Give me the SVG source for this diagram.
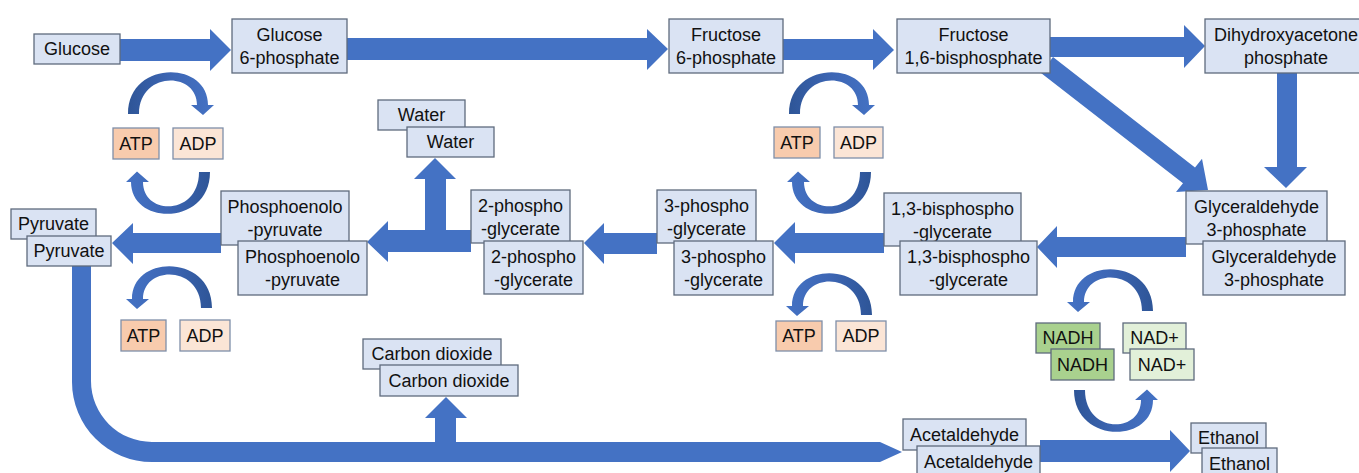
<svg xmlns="http://www.w3.org/2000/svg" xmlns:xlink="http://www.w3.org/1999/xlink" width="1359" height="473" viewBox="0 0 1359 473">
<style>
.b{fill:#DAE3F3;stroke:#5F6B7D;stroke-width:1.3}
.atp{fill:#F8CBAD;stroke:#7F8FA9;stroke-width:1.3}
.adp{fill:#FBE5D6;stroke:#7F8FA9;stroke-width:1.3}
.nadh{fill:#A9D18E;stroke:#5F6B7D;stroke-width:1.3}
.nad{fill:#E2F0D9;stroke:#5F6B7D;stroke-width:1.3}
text{font-family:"Liberation Sans",Arial,sans-serif;font-size:18px;fill:#111;text-anchor:middle}
.arr{fill:#4472C4}
</style>
<defs>
<linearGradient id="gA" x1="0" y1="0" x2="1" y2="0">
<stop offset="0" stop-color="#2E5597"/><stop offset="0.5" stop-color="#3D66B4"/><stop offset="1" stop-color="#4472C4"/>
</linearGradient>
<linearGradient id="gB" x1="1" y1="0" x2="0" y2="0">
<stop offset="0" stop-color="#2E5597"/><stop offset="0.5" stop-color="#3D66B4"/><stop offset="1" stop-color="#4472C4"/>
</linearGradient>
<path id="cu" fill="url(#gA)" d="M128,114 C128,60 208,60 208,105 L214,105 L203,115 L191,105 L197,105 C197,71 139,71 139,114 Z"/>
<path id="cd" fill="url(#gB)" d="M210,172 C210,226 131,226 131,182 L126,182 L137,171.5 L149,182 L143,182 C143,216 199,216 199,172 Z"/>
</defs>
<rect width="1359" height="473" fill="#FFFFFF"/>
<g id="connectors">
<polygon class="arr" points="120,39 210,39 210,29 231,50 210,71 210,61 120,61"/>
<polygon class="arr" points="347,38 647,38 647,29 668,49 647,70 647,60 347,60"/>
<polygon class="arr" points="783,39 873,39 873,29 894,50 873,70 873,60 783,60"/>
<polygon class="arr" points="1050,37 1184,37 1184,25 1205,46 1184,68 1184,57 1050,57"/>
<polygon class="arr" points="1277,73 1297,73 1297,167 1307,167 1286,188 1264,167 1277,167"/>
<polygon class="arr" points="1053,57 1195,167.4 1202,158.7 1208,190 1176,192 1183,183.2 1041,73"/>
<polygon class="arr" points="1186,237 1057,237 1057,226 1037,247 1057,268 1057,257 1186,257"/>
<polygon class="arr" points="884,233 795,233 795,222 774,243 795,264 795,253 884,253"/>
<polygon class="arr" points="657,233 604,233 604,223 584,243 604,264 604,254 657,254"/>
<polygon class="arr" points="471,230 446,230 446,179 456,179 435,158 414,179 425,179 425,230 388,230 388,221 367,242 388,262 388,252 471,252"/>
<polygon class="arr" points="221,233 133,233 133,223 112,243 133,264 133,253 221,253"/>
<path class="arr" d="M72,266 L72,382 A80,80 0 0 0 152,462 L880,462 L902,452 L880,442 L456,442 L456,418 L467,418 L446,397 L425,418 L435,418 L435,442 L152,442 A61,61 0 0 1 91,381 L91,266 Z"/>
<polygon class="arr" points="1040,440 1170,440 1170,430 1190,451 1170,472 1170,462 1040,462"/>
<use xlink:href="#cu"/>
<use xlink:href="#cd"/>
<use xlink:href="#cu" transform="translate(661,0)"/>
<use xlink:href="#cd" transform="translate(661,0)"/>
<use xlink:href="#cu" transform="translate(340,194) scale(-1,1)"/>
<use xlink:href="#cu" transform="translate(1000,201) scale(-1,1)"/>
<use xlink:href="#cu" transform="translate(1281,197) scale(-1,1)"/>
<use xlink:href="#cd" transform="translate(1284,218) scale(-1,1)"/>
</g>
<g id="glucose"><rect class="b" x="34" y="34" width="86" height="30"/><text x="77" y="55">Glucose</text></g>
<g id="g6p"><rect class="b" x="232" y="19" width="115" height="54"/><text x="289.5" y="41">Glucose</text><text x="289.5" y="64">6-phosphate</text></g>
<g id="f6p"><rect class="b" x="669" y="19" width="114" height="54"/><text x="726" y="41">Fructose</text><text x="726" y="64">6-phosphate</text></g>
<g id="f16bp"><rect class="b" x="897" y="19" width="153" height="54"/><text x="973.5" y="41">Fructose</text><text x="973.5" y="64">1,6-bisphosphate</text></g>
<g id="dhap"><rect class="b" x="1205" y="19" width="162" height="54"/><text x="1286" y="41">Dihydroxyacetone</text><text x="1286" y="64">phosphate</text></g>
<g id="atp1"><rect class="atp" x="113" y="128" width="46" height="31"/><text x="136" y="150">ATP</text></g>
<g id="adp1"><rect class="adp" x="173" y="128" width="50" height="31"/><text x="198" y="150">ADP</text></g>
<g id="atp2"><rect class="atp" x="774" y="127" width="46" height="31"/><text x="797" y="149">ATP</text></g>
<g id="adp2"><rect class="adp" x="834" y="127" width="49" height="31"/><text x="858.5" y="149">ADP</text></g>
<g id="water1"><rect class="b" x="378" y="100" width="87" height="30"/><text x="421.5" y="121">Water</text></g>
<g id="water2"><rect class="b" x="407" y="127" width="87" height="30"/><text x="450.5" y="148">Water</text></g>
<g id="pyruvate1"><rect class="b" x="11" y="209" width="85" height="30"/><text x="53.5" y="230">Pyruvate</text></g>
<g id="pyruvate2"><rect class="b" x="27" y="236" width="84" height="30"/><text x="69" y="257">Pyruvate</text></g>
<g id="pep1"><rect class="b" x="221" y="191" width="128" height="54"/><text x="285" y="213">Phosphoenolo</text><text x="285" y="236">-pyruvate</text></g>
<g id="pep2"><rect class="b" x="238" y="241" width="129" height="54"/><text x="302.5" y="263">Phosphoenolo</text><text x="302.5" y="286">-pyruvate</text></g>
<g id="pg2a"><rect class="b" x="471" y="190" width="99" height="53"/><text x="520.5" y="212">2-phospho</text><text x="520.5" y="235">-glycerate</text></g>
<g id="pg2b"><rect class="b" x="484" y="241" width="99" height="53"/><text x="533.5" y="263">2-phospho</text><text x="533.5" y="286">-glycerate</text></g>
<g id="pg3a"><rect class="b" x="657" y="190" width="99" height="53"/><text x="706.5" y="212">3-phospho</text><text x="706.5" y="235">-glycerate</text></g>
<g id="pg3b"><rect class="b" x="674" y="241" width="99" height="54"/><text x="723.5" y="263">3-phospho</text><text x="723.5" y="286">-glycerate</text></g>
<g id="bpg1"><rect class="b" x="884" y="193" width="137" height="53"/><text x="952.5" y="215">1,3-bisphospho</text><text x="952.5" y="238">-glycerate</text></g>
<g id="bpg2"><rect class="b" x="900" y="241" width="137" height="54"/><text x="968.5" y="263">1,3-bisphospho</text><text x="968.5" y="286">-glycerate</text></g>
<g id="ga3p1"><rect class="b" x="1186" y="191" width="141" height="53"/><text x="1256.5" y="213">Glyceraldehyde</text><text x="1256.5" y="236">3-phosphate</text></g>
<g id="ga3p2"><rect class="b" x="1203" y="241" width="142" height="54"/><text x="1274" y="263">Glyceraldehyde</text><text x="1274" y="286">3-phosphate</text></g>
<g id="atp3"><rect class="atp" x="121" y="320" width="45" height="31"/><text x="143.5" y="342">ATP</text></g>
<g id="adp3"><rect class="adp" x="180" y="320" width="50" height="31"/><text x="205" y="342">ADP</text></g>
<g id="atp4"><rect class="atp" x="776" y="321" width="46" height="30"/><text x="799" y="342">ATP</text></g>
<g id="adp4"><rect class="adp" x="836" y="321" width="50" height="30"/><text x="861" y="342">ADP</text></g>
<g id="nadh1"><rect class="nadh" x="1036" y="323" width="64" height="30"/><text x="1068" y="344">NADH</text></g>
<g id="nadh2"><rect class="nadh" x="1051" y="349" width="63" height="31"/><text x="1082.5" y="371">NADH</text></g>
<g id="nad1"><rect class="nad" x="1123" y="323" width="63" height="30"/><text x="1154.5" y="344">NAD+</text></g>
<g id="nad2"><rect class="nad" x="1130" y="349" width="64" height="31"/><text x="1162" y="371">NAD+</text></g>
<g id="co2a"><rect class="b" x="363" y="339" width="138" height="30"/><text x="432" y="360">Carbon dioxide</text></g>
<g id="co2b"><rect class="b" x="380" y="365" width="138" height="31"/><text x="449" y="387">Carbon dioxide</text></g>
<g id="acet1"><rect class="b" x="903" y="419" width="123" height="31"/><text x="964.5" y="441">Acetaldehyde</text></g>
<g id="acet2"><rect class="b" x="917" y="446" width="123" height="34"/><text x="978.5" y="468">Acetaldehyde</text></g>
<g id="eth1"><rect class="b" x="1191" y="423" width="75" height="30"/><text x="1228.5" y="444">Ethanol</text></g>
<g id="eth2"><rect class="b" x="1202" y="448" width="75" height="32"/><text x="1239.5" y="470">Ethanol</text></g>
</svg>
